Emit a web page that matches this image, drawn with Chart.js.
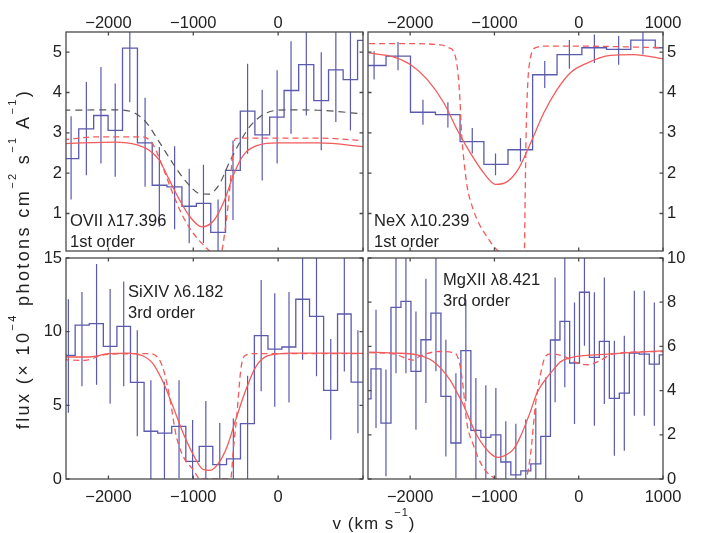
<!DOCTYPE html>
<html>
<head>
<meta charset="utf-8">
<script src="https://cdn.jsdelivr.net/npm/chart.js@4.4.1/dist/chart.umd.min.js"></script>
<style>
body { margin: 0; background: #fff; }
#wrap { position: relative; width: 701px; height: 533px; font-family: 'Liberation Sans', Arial, sans-serif; color: #222; }
#wrap canvas { position: absolute; left: 0; top: 0; }
.note { position: absolute; font-size: 16.5px; line-height: 21px; white-space: nowrap; }
.title { position: absolute; font-size: 17px; line-height: 20px; white-space: nowrap; text-align: center; }
sup { font-size: 11px; line-height: 0; position: relative; top: -6px; }
</style>
</head>
<body>
<div id="wrap">
  <canvas id="ovii" width="701" height="533"></canvas>
  <canvas id="nex" width="701" height="533"></canvas>
  <canvas id="sixiv" width="701" height="533"></canvas>
  <canvas id="mgxii" width="701" height="533"></canvas>

  <div class="note" style="left:70px;top:210px">OVII λ17.396<br>1st order</div>
  <div class="note" style="left:374px;top:210px">NeX λ10.239<br>1st order</div>
  <div class="note" style="left:128px;top:281px">SiXIV λ6.182<br>3rd order</div>
  <div class="note" style="left:443px;top:269px">MgXII λ8.421<br>3rd order</div>

  <div class="title" style="left:-177px;top:249px;width:400px;transform:rotate(-90deg);font-size:18px;letter-spacing:2.4px">flux (× 10<sup>−4</sup> photons cm<sup>−2</sup> s<sup>−1</sup> A<sup>−1</sup>)</div>
  <div class="title" style="left:274px;top:514px;width:200px;letter-spacing:1px">v (km s<sup>−1</sup>)</div>
</div>

<script>
// ---- OVII 17.396 (1st order) ----
const oviiV    = [-2440, -2260, -2088, -1920, -1748, -1568, -1400, -1220, -1048, -880, -708, -532, -360, -188, -12, 152, 332, 508, 680, 852, 1020];
const oviiFlux = [2.36, 3.10, 3.43, 3.06, 5.10, 2.75, 1.70, 1.66, 1.18, 1.25, 0.53, 2.07, 3.54, 2.95, 3.39, 4.05, 4.69, 3.80, 4.56, 4.32, 5.29];
const oviiHi   = [3.41, 4.26, 4.63, 4.22, 5.90, 3.87, 2.65, 2.67, 2.11, 2.21, 1.35, 2.81, 4.71, 4.07, 4.55, 5.27, 5.90, 5.00, 5.90, 5.90, null];
const oviiLo   = [1.35, 1.95, 2.24, 1.91, 3.76, 1.66, 0.67, 0.61, 0.26, 0.27, -0.20, 0.84, 2.48, 1.82, 2.24, 2.98, 3.43, 2.57, 3.27, 3.06, null];
const oviiFitV  = [-2532, -2320, -1920, -1720, -1520, -1400, -1280, -1160, -1040, -900, -760, -640, -520, -400, -240, 0, 480, 1040];
const oviiFit   = [2.73, 2.75, 2.77, 2.73, 2.57, 2.32, 1.82, 1.33, 0.92, 0.67, 0.82, 1.29, 1.99, 2.47, 2.69, 2.75, 2.75, 2.65];
const oviiDashV = [-2532, -2120, -1600, -1480, -1360, -1240, -1120, -1000, -880, -760, -680, -620, -568, -528, -500, -320, 480, 1040];
const oviiDash  = [2.83, 2.90, 2.90, 2.73, 2.15, 1.49, 0.92, 0.51, 0.22, 0.01, 0.00, 0.67, 1.66, 2.65, 2.86, 2.87, 2.87, 2.80];
const oviiGrayV = [-2532, -1920, -1720, -1560, -1400, -1240, -1080, -920, -820, -700, -580, -440, -320, -160, 80, 480, 1040];
const oviiGray  = [3.56, 3.57, 3.52, 3.27, 2.77, 2.24, 1.78, 1.49, 1.48, 1.70, 2.24, 2.81, 3.19, 3.47, 3.57, 3.56, 3.46];

// ---- NeX 10.239 (1st order) ----
const nexV    = [-2428, -2144, -1848, -1552, -1263, -987, -691, -403, -111, 186, 474, 762, 1054];
const nexFlux = [4.67, 4.90, 3.51, 3.45, 2.78, 2.22, 2.58, 4.44, 4.94, 5.11, 5.07, 5.30, 5.11];
const nexHi   = [5.02, 5.25, 3.82, 3.76, 3.12, 2.49, 2.87, 4.78, 5.30, 5.44, 5.40, 5.60, null];
const nexLo   = [4.32, 4.55, 3.20, 3.13, 2.49, 1.95, 2.29, 4.11, 4.59, 4.73, 4.69, 4.94, null];
const nexFitV  = [-2487, -2191, -1994, -1796, -1599, -1441, -1283, -1125, -987, -849, -711, -572, -415, -257, -99, 99, 375, 651, 1007];
const nexFit   = [4.98, 4.88, 4.69, 4.32, 3.74, 3.07, 2.49, 2.00, 1.72, 1.79, 2.12, 2.74, 3.49, 4.07, 4.49, 4.73, 4.92, 4.94, 4.83];
const nexDashV = [-2487, -1994, -1638, -1540, -1469, -1433, -1409, -1390, -1362, -1323, -1263, -1184, -1086, -987, -849, -700, -644, -636, -624, -604, -572, -513, -375, -20, 1007];
const nexDash  = [5.21, 5.21, 5.18, 5.11, 4.94, 4.49, 3.82, 2.99, 2.32, 1.66, 1.17, 0.75, 0.42, 0.13, -0.05, -0.10, 0.09, 1.33, 2.99, 4.24, 4.86, 5.11, 5.15, 5.15, 5.11];

// ---- SiXIV 6.182 (3rd order) ----
const sixivV    = [-2472, -2312, -2140, -1980, -1820, -1660, -1500, -1340, -1168, -1008, -852, -688, -528, -360, -200, -40, 128, 288, 452, 620, 780, 940];
const sixivFlux = [8.39, 10.45, 10.54, 9.00, 10.36, 6.56, 3.24, 3.12, 3.57, 1.20, 2.22, 0.97, 1.36, 3.76, 9.73, 8.82, 8.96, 12.20, 11.04, 6.02, 11.20, 6.58];
const sixivHi   = [12.2, 12.7, 14.6, 12.9, 13.4, 10.1, 6.7, 6.6, 6.7, 4.0, 5.3, 3.8, 4.1, 7.0, 13.5, 12.6, 12.7, 16.0, 16.0, 9.5, 16.0, 10.1];
const sixivLo   = [4.5, 6.3, 6.4, 5.1, 6.3, 2.9, -0.5, -0.5, 0.07, -0.5, -0.5, -0.5, -0.5, -0.5, 5.95, 4.9, 5.2, 8.1, 6.97, 2.67, 7.3, 3.1];
const sixivFitV  = [-2532, -2240, -2000, -1760, -1600, -1480, -1360, -1240, -1120, -1000, -880, -800, -700, -600, -500, -380, -260, -120, 160, 1040];
const sixivFit   = [8.28, 8.28, 8.51, 8.55, 8.37, 7.87, 6.63, 4.93, 3.12, 1.65, 0.63, 0.59, 1.09, 2.22, 4.03, 6.06, 7.65, 8.37, 8.55, 8.53];
const sixivDashV = [-2532, -2280, -2040, -1520, -1400, -1340, -1280, -1200, -1120, -1000, -920, -560, -528, -488, -440, -400, -280, 1040];
const sixivDash  = [8.10, 8.05, 8.44, 8.51, 8.10, 7.19, 5.61, 2.90, 1.54, 0.63, 0.00, 0.00, 1.99, 4.25, 7.42, 8.33, 8.51, 8.51];

// ---- MgXII 8.421 (3rd order) ----
const mgV    = [-2524, -2405, -2287, -2168, -2050, -1931, -1813, -1694, -1576, -1457, -1339, -1220, -1102, -983, -865, -746, -628, -509, -391, -280, -165, -50, 68, 186, 304, 423, 541, 660, 778, 897, 1015];
const mgFlux = [3.63, 4.98, 2.53, 7.77, 8.04, 4.87, 6.30, 7.51, 3.74, 1.63, 5.81, 2.20, 1.88, 2.00, 0.77, 0.19, 0.37, 0.68, 1.93, 6.29, 7.13, 5.25, 8.45, 5.50, 6.23, 3.65, 3.89, 5.70, 5.65, 5.20, 5.62];
const mgHi   = [5.30, 7.66, 4.95, 10.5, 10.5, 7.58, 9.06, 10.5, 6.30, 4.79, 8.12, 4.57, 4.24, 4.12, 2.61, 2.50, 2.70, 3.20, 4.60, 9.12, 10.5, 7.99, 10.5, 8.45, 9.12, 6.26, 6.48, 8.52, 8.52, 7.99, 7.50];
const mgLo   = [2.00, 2.31, 0.12, 4.79, 4.79, 2.23, 3.44, 4.87, 1.02, 0.04, 3.52, -0.5, -0.5, -0.5, -0.5, -0.5, -0.5, -0.5, -0.5, 3.47, 4.15, 2.49, 6.03, 2.41, 3.39, 1.05, 1.28, 2.86, 2.86, 2.41, 3.70];
const mgFitV  = [-2487, -2191, -1923, -1725, -1528, -1370, -1212, -1054, -955, -849, -778, -700, -572, -500, -411, -300, -217, -100, 0, 200, 376, 600, 1007];
const mgFit   = [5.74, 5.70, 5.62, 5.32, 4.49, 3.36, 2.00, 1.18, 0.98, 1.12, 1.33, 1.85, 3.06, 3.85, 4.42, 4.95, 5.30, 5.48, 5.56, 5.62, 5.66, 5.72, 5.80];
const mgDashV = [-2487, -2199, -1962, -1884, -1647, -1469, -1410, -1370, -1330, -1251, -1153, -1034, -936, -700, -631, -572, -513, -454, -394, -335, -178, -19, 100, 257, 376, 700, 1007];
const mgDash  = [5.72, 5.66, 5.38, 5.56, 5.77, 5.70, 5.17, 4.12, 2.61, 1.55, 0.65, 0.12, 0.00, -0.05, 0.00, 1.10, 3.36, 4.72, 5.55, 5.66, 5.55, 5.25, 5.17, 5.36, 5.62, 5.75, 5.77];

// tick labels
const velTicks   = [-2000, -1000, 0, 1000];
const velLabelsL = [-2000, -1000, 0];
const velLabelsR = [-2000, -1000, 0, 1000];
const oviiTicks  = [1, 2, 3, 4, 5];
const nexTicks   = [1, 2, 3, 4, 5];
const sixivTicks = [0, 5, 10, 15];
const mgTicks    = [0, 2, 4, 6, 8, 10];

const BLUE = '#5a5aae';
const RED = '#f45a5a';
const GRAY = '#555555';
const FONT = { family: "'Liberation Sans', Arial, sans-serif", size: 16.5 };

function fmt(v) {
    return v < 0 ? '\u2212' + Math.abs(v) : String(v);
}

function pts(xs, ys) {
    return xs.map((x, i) => ({ x: x, y: ys[i] }));
}

// bin centres -> step line, first/last bin carried to their edges
function stepPts(xs, ys) {
    const n = xs.length;
    const w0 = xs[1] - xs[0], w1 = xs[n - 1] - xs[n - 2];
    return [{ x: xs[0] - w0 / 2, y: ys[0] }].concat(pts(xs, ys), [{ x: xs[n - 1] + w1 / 2, y: ys[n - 1] }]);
}

// vertical error bars as one broken line
function errPts(xs, lo, hi) {
    const out = [];
    xs.forEach((x, i) => {
        if (lo[i] == null) return;
        out.push({ x: x, y: lo[i] }, { x: x, y: hi[i] }, { x: x, y: null });
    });
    return out;
}

// box with inward ticks on all four sides
const boxPlugin = {
    id: 'box',
    afterDatasetsDraw(chart) {
        const { ctx, chartArea: a, scales } = chart;
        const t = 3.5;
        ctx.save();
        ctx.strokeStyle = '#4a4a4a';
        ctx.lineWidth = 1.3;
        ctx.beginPath();
        scales.x.ticks.forEach(tk => {
            const px = scales.x.getPixelForValue(tk.value);
            ctx.moveTo(px, a.top); ctx.lineTo(px, a.top + t);
            ctx.moveTo(px, a.bottom); ctx.lineTo(px, a.bottom - t);
        });
        scales.y.ticks.forEach(tk => {
            const py = scales.y.getPixelForValue(tk.value);
            ctx.moveTo(a.left, py); ctx.lineTo(a.left + t, py);
            ctx.moveTo(a.right, py); ctx.lineTo(a.right - t, py);
        });
        ctx.stroke();
        ctx.strokeRect(a.left, a.top, a.right - a.left, a.bottom - a.top);
        ctx.restore();
    }
};

function makePanel(id, p) {
    const datasets = [
        { data: pts(p.fitV, p.fit), borderColor: RED, borderWidth: 1.3, cubicInterpolationMode: 'monotone' },
        { data: pts(p.dashV, p.dash), borderColor: RED, borderWidth: 1.3, borderDash: [6, 4], cubicInterpolationMode: 'monotone' }
    ];
    if (p.grayV) {
        datasets.push({ data: pts(p.grayV, p.gray), borderColor: GRAY, borderWidth: 1.2, borderDash: [7, 5], cubicInterpolationMode: 'monotone' });
    }
    datasets.push(
        { data: stepPts(p.v, p.flux), borderColor: BLUE, borderWidth: 1.3, stepped: 'middle' },
        { data: errPts(p.v, p.lo, p.hi), borderColor: BLUE, borderWidth: 1.2, spanGaps: false }
    );
    datasets.forEach(d => { d.pointRadius = 0; d.fill = false; });

    new Chart(document.getElementById(id), {
        type: 'line',
        data: { datasets: datasets },
        options: {
            responsive: false,
            animation: false,
            layout: { padding: p.pad },
            plugins: { legend: { display: false }, tooltip: { enabled: false } },
            scales: {
                x: {
                    type: 'linear', position: p.xPos, min: -2500, max: 1000,
                    grid: { display: false, drawTicks: false }, border: { display: false },
                    afterBuildTicks: s => { s.ticks = velTicks.map(v => ({ value: v })); },
                    afterFit: s => { s.height = p.xH; },
                    ticks: {
                        font: FONT, color: '#222', padding: p.xPadT, autoSkip: false, maxRotation: 0,
                        callback: v => p.xLabels.includes(v) ? fmt(v) : ''
                    }
                },
                y: {
                    type: 'linear', position: p.yPos, min: p.yMin, max: p.yMax,
                    grid: { display: false, drawTicks: false }, border: { display: false },
                    afterBuildTicks: s => { s.ticks = p.yTicks.map(v => ({ value: v })); },
                    afterFit: s => { s.width = p.yW; },
                    ticks: { font: FONT, color: '#222', padding: 4, autoSkip: false, callback: v => String(v) }
                }
            }
        },
        plugins: [boxPlugin]
    });
}

makePanel('ovii', {
    v: oviiV, flux: oviiFlux, lo: oviiLo, hi: oviiHi,
    fitV: oviiFitV, fit: oviiFit, dashV: oviiDashV, dash: oviiDash, grayV: oviiGrayV, gray: oviiGray,
    xPos: 'top', xH: 32, xPadT: -1.5, xLabels: velLabelsL,
    yPos: 'left', yW: 40, yMin: 0.07, yMax: 5.5, yTicks: oviiTicks,
    pad: { left: 26, top: 0, right: 338, bottom: 282 }
});

makePanel('nex', {
    v: nexV, flux: nexFlux, lo: nexLo, hi: nexHi,
    fitV: nexFitV, fit: nexFit, dashV: nexDashV, dash: nexDash,
    xPos: 'top', xH: 32, xPadT: -1.5, xLabels: velLabelsR,
    yPos: 'right', yW: 30, yMin: 0.07, yMax: 5.5, yTicks: nexTicks,
    pad: { left: 368, top: 0, right: 8, bottom: 282 }
});

makePanel('sixiv', {
    v: sixivV, flux: sixivFlux, lo: sixivLo, hi: sixivHi,
    fitV: sixivFitV, fit: sixivFit, dashV: sixivDashV, dash: sixivDash,
    xPos: 'bottom', xH: 30, xPadT: 9, xLabels: velLabelsL,
    yPos: 'left', yW: 40, yMin: 0, yMax: 15, yTicks: sixivTicks,
    pad: { left: 26, top: 258, right: 338, bottom: 24 }
});

makePanel('mgxii', {
    v: mgV, flux: mgFlux, lo: mgLo, hi: mgHi,
    fitV: mgFitV, fit: mgFit, dashV: mgDashV, dash: mgDash,
    xPos: 'bottom', xH: 30, xPadT: 9, xLabels: velLabelsR,
    yPos: 'right', yW: 30, yMin: 0, yMax: 10, yTicks: mgTicks,
    pad: { left: 368, top: 258, right: 8, bottom: 24 }
});
</script>
</body>
</html>
